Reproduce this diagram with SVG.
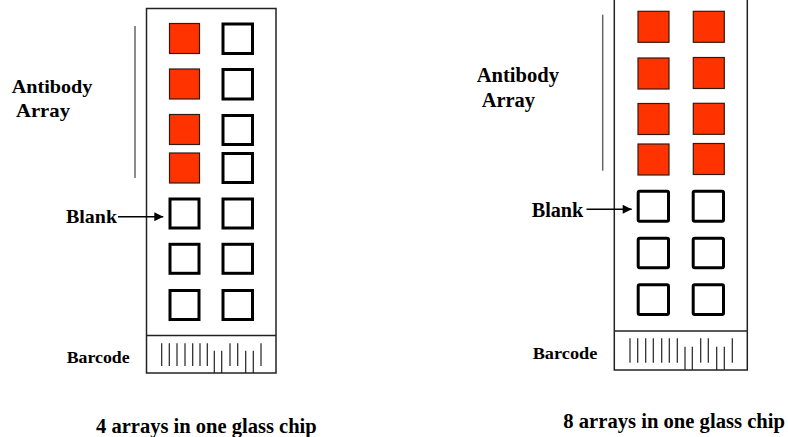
<svg xmlns="http://www.w3.org/2000/svg" width="788" height="437" viewBox="0 0 788 437">
<style>
.lbl{font-family:"Liberation Serif","Times New Roman",serif;font-weight:bold;fill:#000}
.chip{fill:#fff;stroke:#222;stroke-width:1.5}
.red{fill:#FF3300;stroke:#331a10;stroke-width:1.2}
.blank{fill:#fff;stroke:#000;stroke-width:3}
.bar{stroke:#222;stroke-width:1.2}
.vline{stroke:#666;stroke-width:1.5}
.conn{stroke:#000;stroke-width:1.5;fill:none}
</style>
<defs>
<marker id="arr" viewBox="0 0 10 10" refX="10" refY="5" markerWidth="10" markerHeight="9" markerUnits="userSpaceOnUse" orient="auto">
<path d="M0,0 L10,5 L0,10 z" fill="#000"/>
</marker>
</defs>

<g id="chip-left">
<rect class="chip" x="146.5" y="8.5" width="129.5" height="364.5"/>
<line class="chip" x1="146.5" y1="335.5" x2="276" y2="335.5"/>
<rect class="red" x="169.5" y="23.5" width="30" height="30"/>
<rect class="red" x="169.5" y="69" width="30" height="30"/>
<rect class="red" x="169.5" y="114.5" width="30" height="30"/>
<rect class="red" x="169.5" y="153" width="30" height="30"/>
<rect class="blank" x="223" y="24" width="29.5" height="29.5"/>
<rect class="blank" x="223" y="69.5" width="29.5" height="29.5"/>
<rect class="blank" x="223" y="115.5" width="29.5" height="29"/>
<rect class="blank" x="223" y="153.5" width="29.5" height="29"/>
<rect class="blank" x="170" y="199" width="29" height="29"/>
<rect class="blank" x="223" y="199" width="29.5" height="29"/>
<rect class="blank" x="170" y="244.3" width="29" height="29"/>
<rect class="blank" x="223" y="244.3" width="29.5" height="29"/>
<rect class="blank" x="170" y="290.5" width="29" height="29"/>
<rect class="blank" x="223" y="290.5" width="29.5" height="29"/>
<g id="barcode-left">
<line class="bar" x1="161.7" y1="343.3" x2="161.7" y2="366"/>
<line class="bar" x1="169.3" y1="343.3" x2="169.3" y2="366"/>
<line class="bar" x1="177" y1="343.3" x2="177" y2="366"/>
<line class="bar" x1="185" y1="343.3" x2="185" y2="366"/>
<line class="bar" x1="192.7" y1="343.3" x2="192.7" y2="366"/>
<line class="bar" x1="200" y1="343.3" x2="200" y2="366"/>
<line class="bar" x1="207.3" y1="343.3" x2="207.3" y2="366"/>
<line class="bar" x1="214.3" y1="350.7" x2="214.3" y2="373"/>
<line class="bar" x1="221.7" y1="350.7" x2="221.7" y2="373"/>
<line class="bar" x1="230" y1="343.3" x2="230" y2="366"/>
<line class="bar" x1="237.7" y1="343.3" x2="237.7" y2="366"/>
<line class="bar" x1="245.7" y1="350.7" x2="245.7" y2="373"/>
<line class="bar" x1="253.3" y1="350.7" x2="253.3" y2="373"/>
<line class="bar" x1="261" y1="343.3" x2="261" y2="366"/>
</g>
</g>

<g id="label-left">
<line class="vline" x1="135" y1="26" x2="135" y2="178"/>
<text class="lbl" x="11.7" y="93.3" font-size="19.5" textLength="80.6" lengthAdjust="spacingAndGlyphs">Antibody</text>
<text class="lbl" x="16" y="117.3" font-size="19.5" textLength="54" lengthAdjust="spacingAndGlyphs">Array</text>
<text class="lbl" x="66" y="223.3" font-size="19.5" textLength="51" lengthAdjust="spacingAndGlyphs">Blank</text>
<text class="lbl" x="66.7" y="362.7" font-size="17.5" textLength="63" lengthAdjust="spacingAndGlyphs">Barcode</text>
<text class="lbl" x="96" y="432.5" font-size="20" textLength="220.7" lengthAdjust="spacingAndGlyphs">4 arrays in one glass chip</text>
</g>

<g id="chip-right">
<rect class="chip" x="614.3" y="-2" width="133" height="372"/>
<line class="chip" x1="614.3" y1="331" x2="747.3" y2="331"/>
<rect class="red" x="638" y="11.3" width="31" height="31"/>
<rect class="red" x="693.3" y="11.3" width="31" height="31"/>
<rect class="red" x="638" y="58" width="31" height="31"/>
<rect class="red" x="693.3" y="57.5" width="31" height="31"/>
<rect class="red" x="638" y="103.5" width="31" height="31"/>
<rect class="red" x="693.3" y="103.3" width="31" height="31"/>
<rect class="red" x="638" y="144" width="31" height="31"/>
<rect class="red" x="693.3" y="143.5" width="31" height="31"/>
<rect class="blank" x="638.2" y="191.2" width="30.3" height="30" rx="1.5"/>
<rect class="blank" x="693.2" y="191.2" width="30.3" height="30" rx="1.5"/>
<rect class="blank" x="638.2" y="238.2" width="30.3" height="29.6" rx="1.5"/>
<rect class="blank" x="693.2" y="238.2" width="30.3" height="29.6" rx="1.5"/>
<rect class="blank" x="638.2" y="284.8" width="30.3" height="29.7" rx="1.5"/>
<rect class="blank" x="693.2" y="284.8" width="30.3" height="29.7" rx="1.5"/>
<g id="barcode-right">
<line class="bar" x1="630" y1="338.3" x2="630" y2="362.7"/>
<line class="bar" x1="637.7" y1="338.3" x2="637.7" y2="362.7"/>
<line class="bar" x1="645.7" y1="338.3" x2="645.7" y2="362.7"/>
<line class="bar" x1="653.3" y1="338.3" x2="653.3" y2="362.7"/>
<line class="bar" x1="661.7" y1="338.3" x2="661.7" y2="362.7"/>
<line class="bar" x1="669.3" y1="338.3" x2="669.3" y2="362.7"/>
<line class="bar" x1="677.3" y1="338.3" x2="677.3" y2="362.7"/>
<line class="bar" x1="685" y1="346.7" x2="685" y2="370"/>
<line class="bar" x1="692.3" y1="346.7" x2="692.3" y2="370"/>
<line class="bar" x1="700.7" y1="338.3" x2="700.7" y2="362.7"/>
<line class="bar" x1="708.3" y1="338.3" x2="708.3" y2="362.7"/>
<line class="bar" x1="716.7" y1="346.7" x2="716.7" y2="370"/>
<line class="bar" x1="724.3" y1="346.7" x2="724.3" y2="370"/>
<line class="bar" x1="732.3" y1="338.3" x2="732.3" y2="362.7"/>
</g>
</g>

<g id="label-right">
<line class="vline" x1="602.7" y1="14.7" x2="602.7" y2="170.7"/>
<text class="lbl" x="476.7" y="81.7" font-size="20" textLength="82.3" lengthAdjust="spacingAndGlyphs">Antibody</text>
<text class="lbl" x="481.7" y="106.7" font-size="20" textLength="53.3" lengthAdjust="spacingAndGlyphs">Array</text>
<text class="lbl" x="531.7" y="216.7" font-size="20" textLength="51.6" lengthAdjust="spacingAndGlyphs">Blank</text>
<text class="lbl" x="532.7" y="359" font-size="17.5" textLength="64.6" lengthAdjust="spacingAndGlyphs">Barcode</text>
<text class="lbl" x="563.3" y="428.3" font-size="20.5" textLength="221.7" lengthAdjust="spacingAndGlyphs">8 arrays in one glass chip</text>
</g>

<g id="connectors">
<line class="conn" x1="118" y1="216.7" x2="163.3" y2="216.7" marker-end="url(#arr)"/>
<line class="conn" x1="586.5" y1="209.3" x2="631.7" y2="209.3" marker-end="url(#arr)"/>
</g>
</svg>
